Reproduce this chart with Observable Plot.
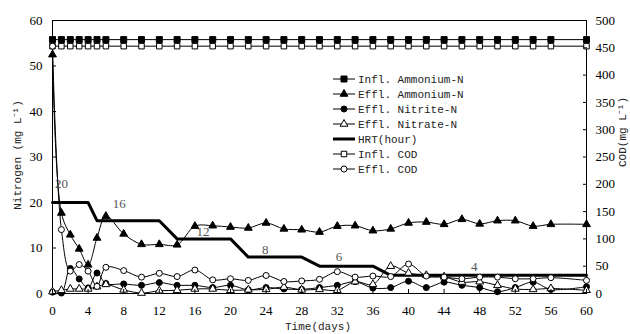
<!DOCTYPE html>
<html><head><meta charset="utf-8">
<script src="https://cdn.jsdelivr.net/npm/d3@7"></script>
<script src="https://cdn.jsdelivr.net/npm/@observablehq/plot@0.6"></script>
<style>
html,body{margin:0;padding:0;background:#fff;}
#chart{position:relative;width:630px;height:334px;}
#legend{position:absolute;left:0;top:0;pointer-events:none;}
</style></head><body><div id="chart"></div>
<script>
// ---- data ----
const days = [0,1,2,3,4,5,6,8,10,12,14,16,18,20,22,24,26,28,30,32,34,36,38,40,42,44,46,48,50,52,54,56,60];
const inflAmmonium = [55.8,55.8,55.8,55.8,55.8,55.8,55.8,55.8,55.8,55.8,55.8,55.8,55.8,55.8,55.8,55.8,55.8,55.8,55.8,55.8,55.8,55.8,55.8,55.8,55.8,55.8,55.8,55.8,55.8,55.8,55.8,55.8,55.8];
const efflAmmonium = [52.5,17.7,12.9,9.8,6.3,12.2,17.0,13.1,10.8,10.8,10.7,14.8,14.9,14.6,14.4,15.5,14.2,14.0,13.5,14.8,14.9,13.8,14.2,15.5,15.7,15.2,16.3,15.3,16.0,16.0,14.8,15.2,15.2];
const efflNitrite = [0.3,0.1,5.5,3.2,1.2,4.5,2.2,2.1,1.8,2.4,1.8,1.8,1.3,1.8,0.8,1.3,1.0,0.9,1.3,1.8,2.6,1.2,1.3,2.7,1.3,2.5,1.8,1.3,0.4,1.3,2.5,0.9,1.5];
const efflNitrate = [0.4,0.7,1.0,1.0,1.0,1.5,2.0,0.8,0.1,0.6,0.7,1.0,1.0,0.7,0.8,0.9,1.4,0.8,0.9,0.7,2.6,2.0,6.0,4.5,4.0,3.7,2.5,2.6,1.8,1.0,0.9,1.1,0.7];
const inflCOD = [453,453,453,453,453,453,453,453,453,453,453,453,453,453,453,453,453,453,453,453,453,453,453,453,453,453,453,453,453,453,453,453,453];
const efflCOD = [453,117,41,53,41,13,48,42,30,37,31,43,25,27,24,33,22,23,26,40,30,32,31,54,32,30,27,30,30,27,27,29,24];
const hrtDays = [0,4,5,12,14,20,22,28,30,36,38,60];
const hrtHours = [20,20,16,16,12,12,8,8,6,6,4,4];
const hrtLabelDays = [1.0,7.5,16.9,23.9,32.2,47.4];
const hrtLabelVals = [24.2,19.6,13.5,9.7,8.1,5.9];
const hrtLabels = ["20","16","12","8","6","4"];
const xTicks = [0,4,8,12,16,20,24,28,32,36,40,44,48,52,56,60];
const yTicks = [0,10,20,30,40,50,60];
const codTicks = [0,50,100,150,200,250,300,350,400,450,500];
const legendLabels = ["Infl. Ammonium-N","Effl. Ammonium-N","Effl. Nitrite-N","Effl. Nitrate-N","HRT(hour)","Infl. COD","Effl. COD"];
const xTitle = "Time(days)";
const yTitle = "Nitrogen (mg L\u207B\u00B9)";
const y2Title = "COD(mg L\u207B\u00B9)";

// ---- build ----
const codScale = 60 / 500;
const rows = days.map((d, i) => ({
  day: d, inflNH4: inflAmmonium[i], efflNH4: efflAmmonium[i], no2: efflNitrite[i],
  no3: efflNitrate[i], inflCOD: inflCOD[i] * codScale, efflCOD: efflCOD[i] * codScale
}));
const hrt = hrtDays.map((d, i) => ({day: d, v: hrtHours[i]}));
const hrtLab = hrtLabels.map((t, i) => ({day: hrtLabelDays[i], v: hrtLabelVals[i], t}));

const serif = "Liberation Serif";
const mono = "Liberation Mono";
const curve = "catmull-rom";

const series = [
  {key: "inflNH4", symbol: "square", fill: "black", r: 3.4, curve: "linear"},
  {key: "efflNH4", symbol: "triangle", fill: "black", r: 2.9, curve},
  {key: "no2", symbol: "circle", fill: "black", r: 3, curve},
  {key: "no3", symbol: "triangle", fill: "white", r: 2.9, curve},
  {key: "inflCOD", symbol: "square", fill: "white", r: 3.1, curve: "linear"},
  {key: "efflCOD", symbol: "circle", fill: "white", r: 3, curve}
];

const marks = [
  Plot.frame({stroke: "black", strokeWidth: 1}),
  Plot.line(hrt, {x: "day", y: "v", stroke: "black", strokeWidth: 3}),
];
for (const s of series) {
  marks.push(Plot.line(rows, {x: "day", y: s.key, stroke: "black", strokeWidth: 1, curve: s.curve}));
}
for (const s of series) {
  marks.push(Plot.dot(rows, {x: "day", y: s.key, symbol: s.symbol, r: s.r, fill: s.fill, stroke: "black", strokeWidth: 1}));
}
marks.push(
  Plot.text(hrtLab, {x: "day", y: "v", text: "t", fill: "#555", fontFamily: serif, fontSize: 13}),
  Plot.axisX({ticks: xTicks, tickSize: -4, tickPadding: 16, fontSize: 13, fontFamily: serif, label: null}),
  Plot.axisY({ticks: yTicks, anchor: "left", tickSize: -4, tickPadding: 14, fontSize: 13, fontFamily: serif, label: null}),
  Plot.axisY(codTicks.map(v => v * codScale), {anchor: "right", tickSize: -4, tickPadding: 13, fontSize: 13, fontFamily: serif, label: null, tickFormat: v => String(Math.round(v / codScale))})
);

const chart = Plot.plot({
  width: 630, height: 334,
  marginLeft: 52, marginRight: 44, marginTop: 20, marginBottom: 41,
  x: {domain: [0, 60]},
  y: {domain: [0, 60]},
  style: {fontFamily: serif, fontSize: "13px", background: "white", color: "black"},
  marks
});
document.getElementById("chart").appendChild(chart);

// ---- overlay: titles + legend ----
const leg = d3.select("#chart").append("svg").attr("id", "legend").attr("width", 630).attr("height", 334);
const tstyle = sel => sel.attr("font-family", mono).attr("font-size", 11).attr("fill", "#222").attr("text-anchor", "middle").attr("dy", "0.35em");
leg.append("text").attr("x", 318).attr("y", 326).call(tstyle).text(xTitle);
leg.append("text").attr("transform", "translate(17,155) rotate(-90)").call(tstyle).text(yTitle);
leg.append("text").attr("transform", "translate(622,132) rotate(-90)").call(tstyle).text(y2Title);

const legSpec = [series[0], series[1], series[2], series[3], null, series[4], series[5]];
legendLabels.forEach((lab, i) => {
  const y = 79 + i * 15;
  const g = leg.append("g").attr("transform", `translate(0,${y})`);
  const s = legSpec[i];
  g.append("line").attr("x1", 333).attr("x2", 355).attr("y1", 0).attr("y2", 0)
    .attr("stroke", "black").attr("stroke-width", s ? 1 : 3);
  if (s) {
    const sym = {square: d3.symbolSquare, triangle: d3.symbolTriangle, circle: d3.symbolCircle}[s.symbol];
    g.append("path").attr("transform", "translate(344,0)")
      .attr("d", d3.symbol(sym, s.r * s.r * Math.PI)())
      .attr("fill", s.fill).attr("stroke", "black").attr("stroke-width", 1);
  }
  g.append("text").attr("x", 358).attr("y", 0).attr("dy", "0.35em")
    .attr("font-family", mono).attr("font-size", 11).attr("fill", "#222").text(lab);
});
</script></body></html>
